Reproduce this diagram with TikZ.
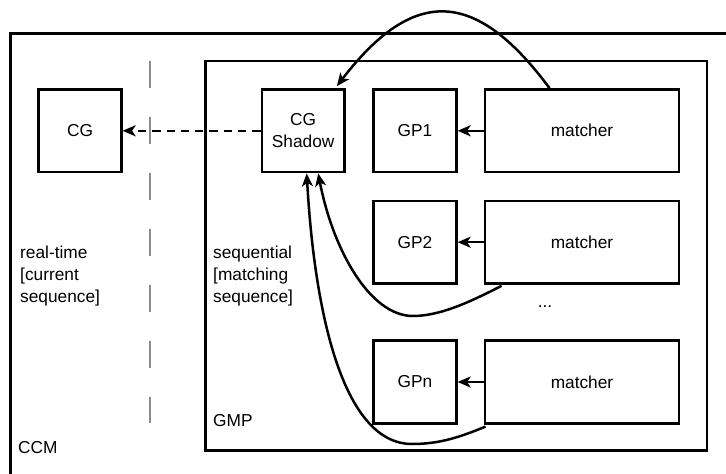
\documentclass[tikz,border=0pt]{standalone}
\usepackage{fontspec}
\setmainfont{Liberation Sans}
\usetikzlibrary{arrows.meta}
\tikzset{
  box/.style={draw, line width=2.5pt, minimum height=82.7pt, inner sep=0pt, align=center},
  sqbox/.style={box, minimum width=82.7pt},
  wbox/.style={box, minimum width=194.4pt},
  frame/.style={draw, line width=2.5pt},
  conn/.style={line width=2.5pt, -{Stealth[length=13pt,width=11pt,inset=3.5pt]}},
  dconn/.style={conn, dash pattern=on 8.3pt off 6pt},
  divider/.style={draw=black!45, line width=2pt, dash pattern=on 27pt off 29pt},
  lbl/.style={inner sep=0pt, anchor=north west, align=left}
}
\begin{document}
\begin{tikzpicture}[x=1pt,y=-1pt,font=\fontsize{17.3}{22}\selectfont]
\useasboundingbox (0,0) rectangle (726,474);
\clip (0,0) rectangle (726,474);
% CCM outer frame (runs off the right and bottom edges)
\draw[frame] (10.5,480) -- (10.5,33.5) -- (740,33.5);
% GMP frame
\draw[frame] (205.5,61.2) rectangle (706.8,450.5);
% real-time / sequential divider
\draw[divider] (149.7,61) -- (149.7,423);
% labels
\node[lbl] (rt) at (20,245.5) {real-time\\{[}current\\sequence{]}};
\node[lbl] (sq) at (213,245.5) {sequential\\{[}matching\\sequence{]}};
\node[inner sep=0pt, anchor=base west] (gmp) at (213,426) {GMP};
\node[inner sep=0pt, anchor=base west] (ccm) at (18,453) {CCM};
% boxes
\node[sqbox] (cg) at (80,130.8) {CG};
\node[sqbox] (cgs) at (303.2,130.8) {CG\\Shadow};
\node[sqbox] (gp1) at (415,130.8) {GP1};
\node[wbox] (m1) at (582,130.8) {matcher};
\node[sqbox] (gp2) at (415,242.2) {GP2};
\node[wbox] (m2) at (582,242.2) {matcher};
\node[inner sep=0pt] (dots) at (545,307) {...};
\node[sqbox] (gpn) at (415,382) {GPn};
\node[wbox] (mn) at (582,382) {matcher};
% connectors
\draw[dconn] (cgs.west) -- (cg.east);
\draw[conn] (m1.west) -- (gp1.east);
\draw[conn] (m2.west) -- (gp2.east);
\draw[conn] (mn.west) -- (gpn.east);
\draw[conn] ([xshift=66pt]m1.north west) .. controls (474.7,-12.7) and (412.8,-12.7) .. ([xshift=-9pt,yshift=2pt]cgs.north east);
\draw[conn] ([xshift=18pt,yshift=-1pt]m2.south west) .. controls (470,302) and (440,316) .. (413,316)
  .. controls (370,316) and (333,250) .. ([xshift=15pt]cgs.south);
\draw[conn] ([xshift=2pt,yshift=-2pt]mn.south west) .. controls (460,437) and (440,444) .. (412,444)
  .. controls (345,444) and (315,320) .. ([xshift=3.5pt]cgs.south);
\end{tikzpicture}
\end{document}
